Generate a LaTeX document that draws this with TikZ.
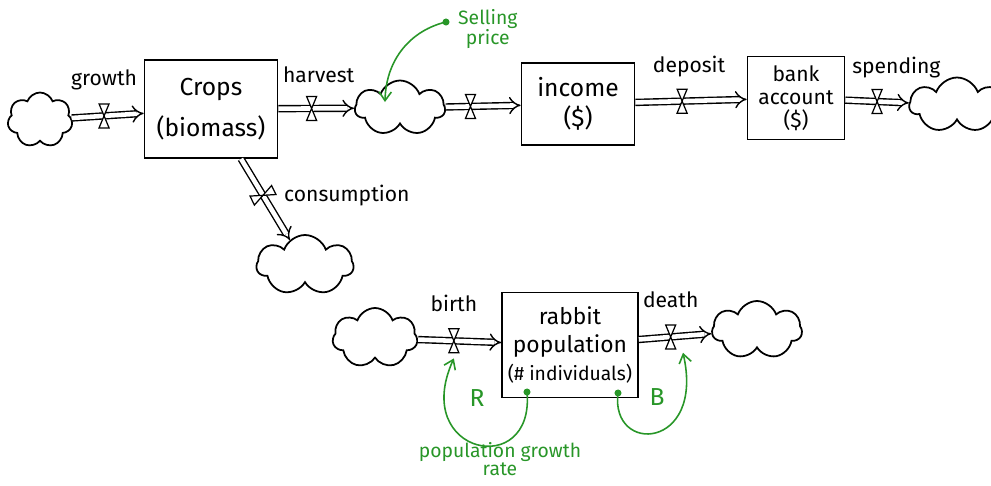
\documentclass[tikz,border=0pt]{standalone}
\usepackage{fontspec}
\setmainfont{Fira Sans}
\usetikzlibrary{arrows.meta, positioning, shapes.symbols}
\definecolor{loopgreen}{RGB}{40,150,40}

\begin{document}
\begin{tikzpicture}[
x=0.02cm, y=-0.02cm,
stock/.style={
draw,
line width=1pt,
align=center,
font=\fontsize{14}{17}\selectfont
},
sink/.style={draw, cloud, cloud puffs=7, cloud puff arc=140, cloud ignores aspect, line width=1pt},
flow/.style={double, double distance=2.6pt, line width=0.8pt, -{Implies}},
lbl/.style={font=\fontsize{12}{13}\selectfont},
info/.style={loopgreen, align=center, font=\fontsize{11}{11}\selectfont},
link/.style={loopgreen, line width=0.9pt, -{Straight Barb[length=5pt, width=7pt]}},
valve/.pic={\draw[fill=white, line width=0.7pt] (-5,-12) -- (5,-12) -- (-5,12) -- (5,12) -- cycle;}
]
\useasboundingbox (0,0) rectangle (991,485);

% stocks
\node[stock, minimum width=2.66cm, minimum height=1.96cm] (crops) at (211,109) {Crops\\[6pt](biomass)};
\node[stock, minimum width=2.26cm, minimum height=1.64cm] (income) at (578,104) {income\\(\$)};
\node[stock, minimum width=1.94cm, minimum height=1.66cm, font=\fontsize{12}{13}\selectfont] (bank) at (796,98) {bank\\account\\(\$)};
\node[stock, minimum width=2.5cm, minimum height=2.1cm, font=\fontsize{13}{16}\selectfont] (rabbit) at (570,345) {rabbit\\population\\{\fontsize{11}{13}\selectfont(\# individuals)}};

% sources and sinks
\node[sink, minimum width=1.3cm, minimum height=1.1cm] (cloudA) at (40,120) {};
\node[sink, minimum width=1.8cm, minimum height=1.1cm] (cloudB) at (400,108) {};
\node[sink, minimum width=1.9cm, minimum height=1.1cm] (cloudD) at (957,105) {};
\node[sink, minimum width=1.94cm, minimum height=1.2cm] (cloudC) at (305,265) {};
\node[sink, minimum width=1.7cm, minimum height=1.2cm] (cloudE) at (375,338) {};
\node[sink, minimum width=1.8cm, minimum height=1.16cm] (cloudF) at (757,330) {};

% flows
\draw[flow] (cloudA) -- coordinate[pos=.45] (vGrowth) (crops);
\draw[flow] (crops) -- coordinate[pos=.44] (vHarvest) (cloudB);
\draw[flow] (cloudB) -- coordinate[pos=.33] (vSell) (income);
\draw[flow] (income) -- coordinate[pos=.42] (vDeposit) (bank);
\draw[flow] (bank) -- coordinate[pos=.5] (vSpend) (cloudD);
\draw[flow] (crops) -- coordinate[pos=.45] (vCons) (cloudC);
\draw[flow] (cloudE) -- coordinate[pos=.43] (vBirth) (rabbit);
\draw[flow] (rabbit) -- coordinate[pos=.44] (vDeath) (cloudF);

\foreach \v in {vGrowth, vHarvest, vSell, vDeposit, vSpend, vBirth, vDeath}
\pic at (\v) {valve};
\pic[rotate=-64] at (vCons) {valve};

% flow labels
\node[lbl, above=0.4cm of vGrowth] (growthLbl) {growth};
\node[lbl, above=0.4cm of vHarvest, xshift=4pt] (harvestLbl) {harvest};
\node[lbl, above=0.35cm of vDeposit, xshift=4pt] (depositLbl) {deposit};
\node[lbl, above=0.35cm of vSpend, xshift=11pt] (spendLbl) {spending};
\node[lbl, right=0.3cm of vCons] (consLbl) {consumption};
\node[lbl, above=0.45cm of vBirth] (birthLbl) {birth};
\node[lbl, above=0.45cm of vDeath] (deathLbl) {death};

% information links
\coordinate (priceDot) at (446,22);
\coordinate (priceIn) at (385,102);
\node[info, anchor=west] (price) at (452,29) {Selling\\price};
\fill[loopgreen] (priceDot) circle[radius=2pt];
\draw[link] (priceDot) .. controls (412,30) and (386,58) .. (priceIn);

\coordinate (rDot) at (527,392);
\coordinate (bDot) at (618,393);
\fill[loopgreen] (rDot) circle[radius=2pt];
\fill[loopgreen] (bDot) circle[radius=2pt];
\draw[link] (rDot) .. controls (535,480) and (410,455) .. ([yshift=-10pt]vBirth);
\draw[link] (bDot) .. controls (610,455) and (705,450) .. ([xshift=7pt, yshift=-9pt]vDeath);

\node[info, font=\fontsize{14}{14}\selectfont] (rLbl) at (477,398) {R};
\node[info, font=\fontsize{14}{14}\selectfont] (bLbl) at (657,397) {B};
\node[info, font=\fontsize{11}{10}\selectfont] (rateLbl) at (500,459) {population growth\\rate};

\end{tikzpicture}
\end{document}
